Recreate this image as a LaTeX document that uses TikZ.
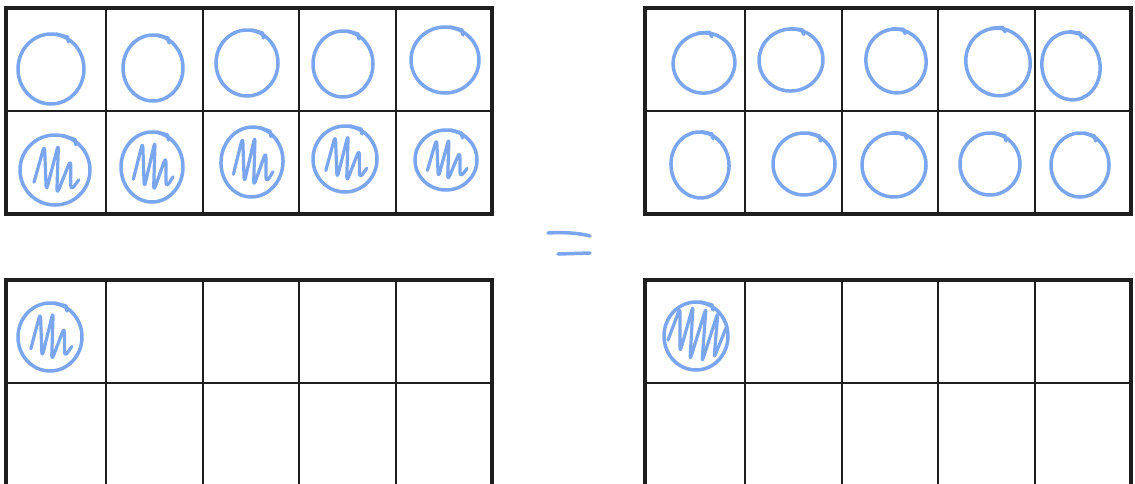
\documentclass[tikz,border=0pt]{standalone}
\definecolor{penblue}{RGB}{122,166,240}
\definecolor{inkgrey}{RGB}{30,30,30}
\tikzset{
  frameline/.style={line width=4pt, draw=inkgrey},
  cellline/.style={line width=2pt, draw=inkgrey},
  ring/.style={draw=penblue, line width=3.5pt, line cap=round, line join=round},
  scribble/.style={ring, line width=3.2pt, rounded corners=6pt},
}
% ten-frame: left x, top y
\newcommand{\tenframe}[2]{%
  \foreach \dx in {100,197,293,390}
    \draw[cellline] (#1+\dx,#2) -- (#1+\dx,#2+206);
  \draw[cellline] (#1,#2+103) -- (#1+486,#2+103);
  \draw[frameline] (#1,#2) rectangle (#1+486,#2+206);
}
% hand drawn counter: x, y, x radius, y radius, tilt
\newcommand{\openring}[5]{%
  \draw[ring, rotate around={#5:(#1,#2)}] (#1,#2) ellipse [x radius=#3, y radius=#4];
  \draw[ring, rotate around={#5:(#1,#2)}] (#1+0.15*#3,#2-#4) -- ++(0.35*#3,3) -- ++(1,5);
}
\newcommand{\fullring}[5]{%
  \openring{#1}{#2}{#3}{#4}{#5}
  \draw[scribble] (#1-0.6*#3,#2+0.35*#4) -- (#1-0.3*#3,#2-0.72*#4)
    -- (#1-0.25*#3,#2+0.6*#4) -- (#1+0.1*#3,#2-0.75*#4)
    -- (#1+0.05*#3,#2+0.7*#4) -- (#1+0.45*#3,#2-0.3*#4)
    -- (#1+0.45*#3,#2+0.6*#4) -- (#1+0.68*#3,#2+0.28*#4);
}
\begin{document}
\begin{tikzpicture}[x=1pt, y=-1pt]
  \useasboundingbox[fill=white] (0,0) rectangle (1135,483);
  \clip (0,0) rectangle (1135,483);

  % frames
  \tenframe{6}{8}
  \tenframe{645}{8}
  \tenframe{6}{280}
  \tenframe{645}{280}

  % top left
  \openring{51}{69}{33}{35}{0}
  \openring{153}{68}{30}{33}{0}
  \openring{247}{63}{31}{33}{0}
  \openring{343}{64}{30}{33}{0}
  \openring{445}{60}{34}{33}{0}
  \fullring{55}{170}{35}{35}{-5}
  \fullring{152}{167}{31}{35}{0}
  \fullring{252}{162}{31}{35}{-5}
  \fullring{345}{159}{32}{33}{0}
  \fullring{446}{160}{31}{30}{0}

  % top right
  \openring{704}{63}{31}{30}{20}
  \openring{791}{60}{32}{31}{10}
  \openring{896}{61}{30}{32}{15}
  \openring{998}{62}{32}{34}{20}
  \openring{1071}{66}{29}{34}{10}
  \openring{700}{165}{29}{33}{5}
  \openring{804}{164}{31}{31}{0}
  \openring{894}{165}{32}{32}{10}
  \openring{990}{164}{30}{31}{0}
  \openring{1080}{165}{29}{32}{0}

  % bottom
  \fullring{50}{337}{32}{34}{0}
  \openring{696}{336}{32}{34}{0}
  \draw[scribble, rounded corners=4pt] (668,340) -- (680,308) -- (680,352)
    -- (693,306) -- (690,360) -- (706,308) -- (702,362) -- (718,312)
    -- (714,358) -- (726,328);

  % equals sign
  \draw[ring] (548,233) .. controls (562,232) and (580,233) .. (590,236);
  \draw[ring] (558,254) -- (590,253);
\end{tikzpicture}
\end{document}
